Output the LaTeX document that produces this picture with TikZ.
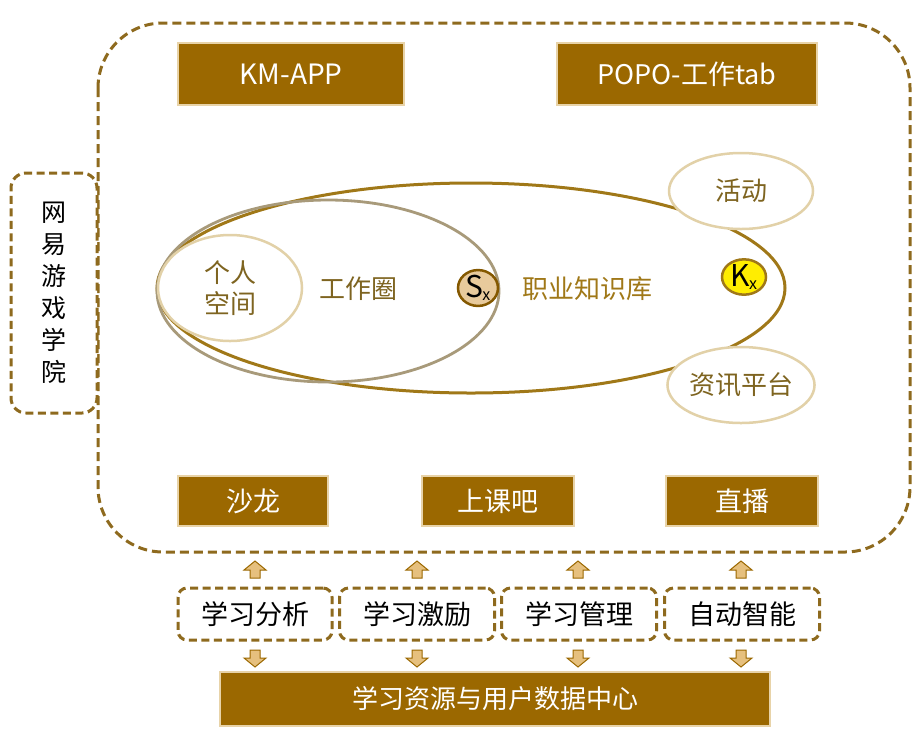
\documentclass[tikz,border=0pt]{standalone}
\usepackage{fontspec}
\setmainfont{Noto Sans CJK SC}
\usetikzlibrary{shapes.geometric}
\definecolor{brn}{HTML}{9B6800}
\definecolor{tanb}{HTML}{E8D3A8}
\definecolor{dsh}{HTML}{8E6A1E}
\definecolor{gold}{HTML}{A07818}
\definecolor{grayb}{HTML}{A89A7A}
\definecolor{lt}{HTML}{E2D1A8}
\definecolor{txt}{HTML}{7E6420}
\definecolor{arrf}{HTML}{E6C07E}
\tikzset{
  x=1pt,y=-1pt,
  solidbox/.style={draw=tanb,line width=2pt,fill=brn,text=white,font=\fontsize{27}{29}\selectfont},
  dbox/.style={draw=dsh,line width=3pt,dash pattern=on 8pt off 4.5pt,rounded corners=9pt,fill=white,font=\fontsize{27}{29}\selectfont},
  ell/.style={ellipse,draw=lt,line width=2.5pt,fill=white,text=txt,font=\fontsize{26}{28}\selectfont,inner sep=0pt},
  lbl/.style={text=txt,font=\fontsize{26}{28}\selectfont},
  uparr/.style={draw=brn,line width=1pt,fill=arrf},
}
\newcommand{\myuparr}[2]{\draw[uparr] (#1-11,#2+8) -- (#1,#2-1) -- (#1+11,#2+8) -- (#1+5,#2+8) -- (#1+5,#2+16) -- (#1-5,#2+16) -- (#1-5,#2+8) -- cycle;}
\newcommand{\mydownarr}[2]{\draw[uparr] (#1-11,#2+8) -- (#1,#2+17) -- (#1+11,#2+8) -- (#1+5,#2+8) -- (#1+5,#2) -- (#1-5,#2) -- (#1-5,#2+8) -- cycle;}
\begin{document}
\begin{tikzpicture}
\useasboundingbox (0,0) rectangle (923,748);
\fill[white] (0,0) rectangle (923,748);
% outer dashed frame
\draw[draw=dsh,line width=3pt,dash pattern=on 9pt off 5pt,rounded corners=65pt] (98,23) rectangle (910,552);
% left box
\node[dbox,minimum width=86pt,minimum height=240pt,rounded corners=15pt,align=center,font=\fontsize{25}{32}\selectfont,inner sep=0pt] (wy) at (54,293) {网\\易\\游\\戏\\学\\院};
% top boxes
\node[solidbox,font=\fontsize{28}{30}\selectfont,minimum width=226pt,minimum height=62pt] (km) at (291,74) {KM-APP};
\node[solidbox,font=\fontsize{27}{30}\selectfont,minimum width=260pt,minimum height=62pt] (popo) at (687,74) {POPO-工作tab};
% big ellipse
\node[ellipse,draw=gold,line width=3pt,minimum width=628pt,minimum height=210pt] (big) at (471,288) {};
\node[ellipse,draw=grayb,line width=2.8pt,minimum width=342pt,minimum height=182pt] (work) at (328,291) {};
\node[ell,minimum width=144pt,minimum height=106pt,align=center,font=\fontsize{26}{31}\selectfont] (pers) at (230,288) {个人\\空间};
\node[lbl] (wq) at (358,289) {工作圈};
\node[lbl,text=gold] (zy) at (587,289) {职业知识库};
\node[ellipse,draw=brn!85!black,line width=2.5pt,fill=arrf!80!brown!70,minimum width=40pt,minimum height=32pt,inner sep=0pt] (sx) at (478,288) {\fontsize{30}{30}\selectfont S\kern-1pt\raisebox{-3pt}{\fontsize{16}{16}\selectfont x}};
\node[ellipse,draw=gold,line width=2.5pt,fill=yellow!95!orange,minimum width=44pt,minimum height=32pt,inner sep=0pt] (kx) at (744,277) {\fontsize{30}{30}\selectfont K\kern-1pt\raisebox{-3pt}{\fontsize{16}{16}\selectfont x}};
\node[ell,minimum width=144pt,minimum height=76pt] (hd) at (741,191) {活动};
\node[ell,minimum width=144pt,minimum height=76pt] (zx) at (741,385) {资讯平台};
% bottom row in frame
\node[solidbox,minimum width=150pt,minimum height=50pt] (sl) at (253,501) {沙龙};
\node[solidbox,minimum width=152pt,minimum height=50pt] (sk) at (498,501) {上课吧};
\node[solidbox,minimum width=152pt,minimum height=50pt] (zb) at (742,501) {直播};
% dashed middle boxes
\node[dbox,minimum width=154pt,minimum height=52pt] (fx) at (255,614) {学习分析};
\node[dbox,minimum width=155pt,minimum height=52pt] (jl) at (417,614) {学习激励};
\node[dbox,minimum width=155pt,minimum height=52pt] (gl) at (579,614) {学习管理};
\node[dbox,minimum width=155pt,minimum height=52pt] (zn) at (742,614) {自动智能};
% bottom data center
\node[solidbox,font=\fontsize{26}{28}\selectfont,minimum width=550pt,minimum height=54pt] (dc) at (495,699) {学习资源与用户数据中心};
% arrows
\myuparr{255}{562}
\myuparr{417}{562}
\myuparr{578}{562}
\myuparr{741}{562}
\mydownarr{255}{650}
\mydownarr{417}{650}
\mydownarr{578}{650}
\mydownarr{741}{650}
\end{tikzpicture}
\end{document}
